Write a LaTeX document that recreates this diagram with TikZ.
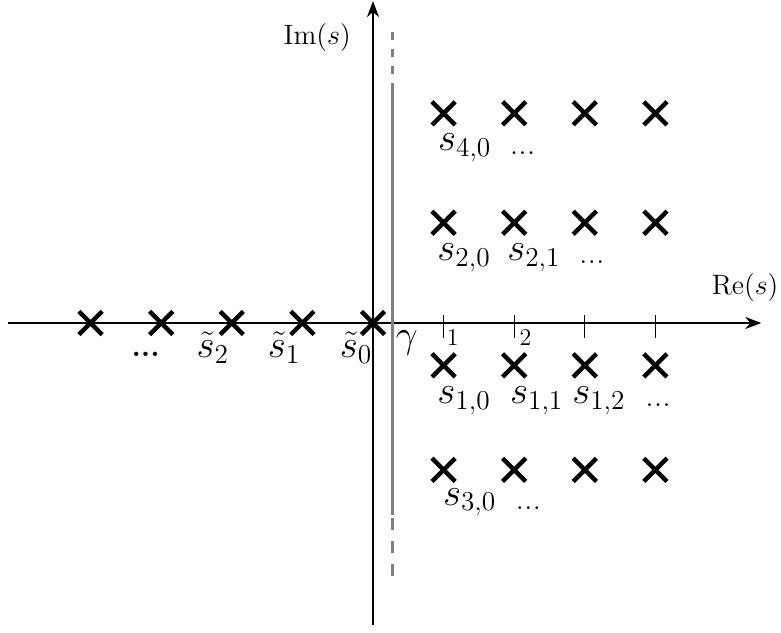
\documentclass[tikz,border=0pt]{standalone}
\usepackage{fix-cm}
\usepackage{tikz}
\usetikzlibrary{arrows.meta,shapes.misc}
\definecolor{rule}{HTML}{808080}
\tikzset{
  >={Stealth[length=8pt,width=6pt,inset=2.5pt]},
  axis/.style={line width=1pt, ->},
  pole/.style={cross out, draw, line width=2.2pt, minimum size=9.4pt, inner sep=0pt},
  polelabel/.style={font=\fontsize{19.5}{23}\selectfont, inner sep=0pt},
  axislabel/.style={font=\fontsize{14}{17}\selectfont, inner sep=0pt},
  ticklabel/.style={font=\fontsize{12}{14}\selectfont, inner sep=0pt},
  moredots/.style={font=\fontsize{17}{20}\selectfont, inner sep=0pt},
  contour/.style={draw=rule, line width=1.5pt},
}

\begin{document}
\begin{tikzpicture}[x=35.3pt,y=35.3pt]
  \useasboundingbox (-5.283,-4.377) rectangle (5.779,4.575);

  % axes
  \draw[axis] (-5.17,0) -- (5.50,0);
  \draw[axis] (0,-4.28) -- (0,4.56);
  \node[axislabel] (re) at (5.27,0.50) {$\mathrm{Re}(s)$};
  \node[axislabel] (im) at (-0.79,4.04) {$\mathrm{Im}(s)$};

  % ticks
  \foreach \x in {1,...,4}
    \draw[line width=0.5pt] (\x,0.11) -- (\x,-0.21);
  \node[ticklabel] (t1) at (1.13,-0.21) {1};
  \node[ticklabel] (t2) at (2.16,-0.21) {2};

  % integration line
  \draw[contour] (0.27,3.40) -- (0.27,-2.72);
  \draw[contour, dash pattern=on 4pt off 4.5pt] (0.27,4.12) -- (0.27,3.40);
  \draw[contour, dash pattern=on 6pt off 5.5pt] (0.27,-2.76) -- (0.27,-3.60);
  \node[polelabel] (gamma) at (0.48,-0.28) {$\gamma$};

  % poles on the real axis
  \foreach \k in {0,...,4}
    \node[pole] (q\k) at (-\k,0) {};
  \node[polelabel] (lq0) at (-0.24,-0.35) {$\tilde{s}_0$};
  \node[polelabel] (lq1) at (-1.26,-0.35) {$\tilde{s}_1$};
  \node[polelabel] (lq2) at (-2.27,-0.35) {$\tilde{s}_2$};
  \node[font=\fontsize{15}{18}\selectfont\bfseries, inner sep=0pt] (lqd) at (-3.22,-0.45) {...};

  % poles in the right half plane
  \foreach \y/\r in {2.97/4, 1.42/2, -0.6/1, -2.08/3}
    \foreach \x in {1,...,4}
      \node[pole] (p\r\x) at (\x,\y) {};

  \node[polelabel] (l40) at (1.30,2.48) {$s_{4,0}$};
  \node[moredots] (d4) at (2.12,2.41) {...};

  \node[polelabel] (l20) at (1.29,0.92) {$s_{2,0}$};
  \node[polelabel] (l21) at (2.28,0.92) {$s_{2,1}$};
  \node[moredots] (d2) at (3.10,0.86) {...};

  \node[polelabel] (l10) at (1.29,-1.10) {$s_{1,0}$};
  \node[polelabel] (l11) at (2.32,-1.10) {$s_{1,1}$};
  \node[polelabel] (l12) at (3.20,-1.10) {$s_{1,2}$};
  \node[moredots] (d1) at (4.04,-1.16) {...};

  \node[polelabel] (l30) at (1.37,-2.54) {$s_{3,0}$};
  \node[moredots] (d3) at (2.20,-2.62) {...};
\end{tikzpicture}
\end{document}
